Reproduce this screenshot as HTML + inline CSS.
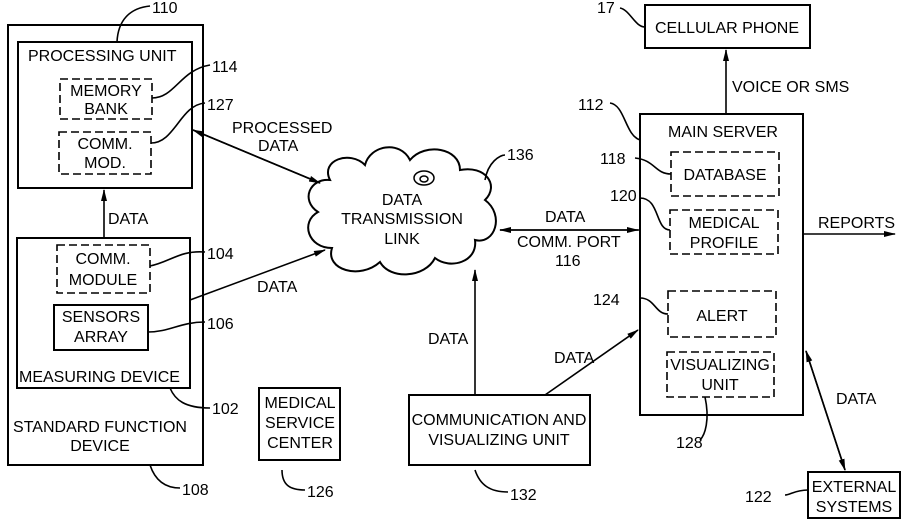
<!DOCTYPE html>
<html><head><meta charset="utf-8"><style>
html,body{margin:0;padding:0;background:#fff;}
svg text{font-family:"Liberation Sans",sans-serif;font-size:16px;fill:#000;}
</style></head><body>
<svg width="906" height="521" viewBox="0 0 906 521" xmlns="http://www.w3.org/2000/svg">
<defs><marker id="a" markerWidth="12" markerHeight="8" refX="11" refY="4" orient="auto" markerUnits="userSpaceOnUse"><path d="M0,1 L12,4 L0,7 Z" fill="#000"/></marker></defs>
<g fill="none" stroke="#000" stroke-width="2">
<rect x="8" y="25" width="195" height="440"/>
<rect x="18" y="42" width="174" height="146"/>
<rect x="17" y="238" width="173" height="150"/>
<rect x="54" y="305" width="94" height="45"/>
<rect x="645" y="5" width="165" height="43"/>
<rect x="640" y="114" width="163" height="301"/>
<rect x="259" y="388" width="81" height="72"/>
<rect x="409" y="395" width="181" height="70"/>
<rect x="808" y="472" width="92" height="46"/>
</g>
<g fill="none" stroke="#000" stroke-width="1.6" stroke-dasharray="8,4">
<rect x="60" y="79" width="92" height="40"/>
<rect x="59" y="132" width="92" height="42"/>
<rect x="57" y="245" width="93" height="48"/>
<rect x="671" y="152" width="108" height="44"/>
<rect x="670" y="210" width="108" height="44"/>
<rect x="668" y="291" width="108" height="46"/>
<rect x="667" y="352" width="107" height="45"/>
</g>
<path d="M330,180 C320,160 350,150 365,165 C370,145 400,140 410,160 C425,142 460,148 460,170 C485,165 500,185 485,200 C505,215 495,245 475,240 C478,262 450,270 435,258 C425,278 390,280 380,262 C360,280 325,270 332,248 C308,248 300,222 318,212 C300,200 310,178 330,180 Z" fill="none" stroke="#000" stroke-width="2"/>
<ellipse cx="424" cy="178" rx="10" ry="7" fill="none" stroke="#000" stroke-width="1.5"/>
<ellipse cx="424" cy="179" rx="4" ry="3" fill="none" stroke="#000" stroke-width="1.5"/>
<g stroke="#000" stroke-width="1.6" fill="none">
<line x1="104" y1="238" x2="104" y2="190" marker-end="url(#a)"/>
<line x1="320" y1="183" x2="193" y2="130" marker-end="url(#a)"/>
<line x1="193" y1="130" x2="320" y2="183" marker-end="url(#a)"/>
<line x1="190" y1="300" x2="325" y2="250" marker-end="url(#a)"/>
<line x1="640" y1="230" x2="500" y2="230" marker-end="url(#a)"/>
<line x1="500" y1="230" x2="638" y2="230" marker-end="url(#a)"/>
<line x1="475" y1="395" x2="475" y2="270" marker-end="url(#a)"/>
<line x1="545" y1="395" x2="638" y2="330" marker-end="url(#a)"/>
<line x1="726" y1="114" x2="726" y2="50" marker-end="url(#a)"/>
<line x1="803" y1="234" x2="895" y2="234" marker-end="url(#a)"/>
<line x1="806" y1="351" x2="845" y2="470" marker-end="url(#a)"/>
<line x1="845" y1="470" x2="806" y2="351" marker-end="url(#a)"/>
<path d="M117,42 C118,20 130,8 150,6"/>
<path d="M152,98 C175,98 180,70 210,65"/>
<path d="M151,143 C175,143 180,105 205,103"/>
<path d="M150,266 C170,262 180,250 205,252"/>
<path d="M148,332 C170,332 180,322 205,322"/>
<path d="M170,388 C175,400 185,408 210,408"/>
<path d="M150,465 C155,480 165,488 180,488"/>
<path d="M282,470 C282,485 290,490 305,490"/>
<path d="M475,470 C480,485 490,492 508,492"/>
<path d="M485,180 C488,162 500,155 505,155"/>
<path d="M640,140 C625,135 625,105 610,103"/>
<path d="M671,174 C655,174 655,160 635,158"/>
<path d="M670,230 C655,230 660,198 640,198"/>
<path d="M668,314 C655,314 655,298 640,298"/>
<path d="M705,397 C710,420 705,435 700,440"/>
<path d="M645,27 C635,27 630,10 620,8"/>
<path d="M808,490 C795,490 790,495 785,495"/>
</g>
<text x="152" y="13">110</text>
<text x="28" y="61">PROCESSING UNIT</text>
<text x="106" y="96" text-anchor="middle">MEMORY</text>
<text x="106" y="114" text-anchor="middle">BANK</text>
<text x="212" y="72">114</text>
<text x="105" y="149" text-anchor="middle">COMM.</text>
<text x="105" y="168" text-anchor="middle">MOD.</text>
<text x="207" y="110">127</text>
<text x="232" y="133">PROCESSED</text>
<text x="258" y="151">DATA</text>
<text x="108" y="224">DATA</text>
<text x="103" y="264" text-anchor="middle">COMM.</text>
<text x="103" y="285" text-anchor="middle">MODULE</text>
<text x="207" y="259">104</text>
<text x="101" y="322" text-anchor="middle">SENSORS</text>
<text x="101" y="342" text-anchor="middle">ARRAY</text>
<text x="207" y="329">106</text>
<text x="257" y="292">DATA</text>
<text x="19" y="382">MEASURING DEVICE</text>
<text x="212" y="414">102</text>
<text x="100" y="432" text-anchor="middle">STANDARD FUNCTION</text>
<text x="100" y="451" text-anchor="middle">DEVICE</text>
<text x="182" y="495">108</text>
<text x="300" y="408" text-anchor="middle">MEDICAL</text>
<text x="300" y="428" text-anchor="middle">SERVICE</text>
<text x="300" y="448" text-anchor="middle">CENTER</text>
<text x="307" y="497">126</text>
<text x="402" y="205" text-anchor="middle">DATA</text>
<text x="402" y="224" text-anchor="middle">TRANSMISSION</text>
<text x="402" y="244" text-anchor="middle">LINK</text>
<text x="507" y="160">136</text>
<text x="545" y="222">DATA</text>
<text x="517" y="247">COMM. PORT</text>
<text x="555" y="266">116</text>
<text x="428" y="344">DATA</text>
<text x="554" y="363">DATA</text>
<text x="499" y="425" text-anchor="middle">COMMUNICATION AND</text>
<text x="499" y="445" text-anchor="middle">VISUALIZING UNIT</text>
<text x="510" y="500">132</text>
<text x="597" y="13">17</text>
<text x="727" y="33" text-anchor="middle">CELLULAR PHONE</text>
<text x="732" y="92">VOICE OR SMS</text>
<text x="578" y="110">112</text>
<text x="668" y="137">MAIN SERVER</text>
<text x="600" y="164">118</text>
<text x="725" y="180" text-anchor="middle">DATABASE</text>
<text x="610" y="201">120</text>
<text x="724" y="228" text-anchor="middle">MEDICAL</text>
<text x="724" y="248" text-anchor="middle">PROFILE</text>
<text x="818" y="228">REPORTS</text>
<text x="593" y="305">124</text>
<text x="722" y="321" text-anchor="middle">ALERT</text>
<text x="720" y="370" text-anchor="middle">VISUALIZING</text>
<text x="720" y="390" text-anchor="middle">UNIT</text>
<text x="836" y="404">DATA</text>
<text x="676" y="448">128</text>
<text x="854" y="492" text-anchor="middle">EXTERNAL</text>
<text x="854" y="512" text-anchor="middle">SYSTEMS</text>
<text x="745" y="502">122</text>
</svg>
</body></html>
